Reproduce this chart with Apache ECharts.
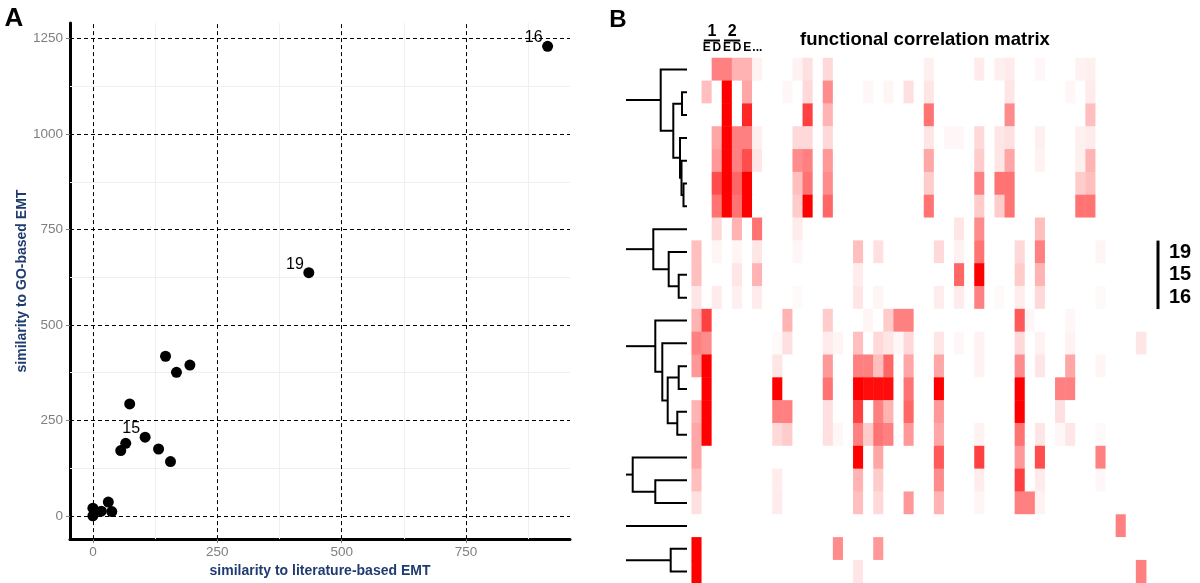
<!DOCTYPE html>
<html><head><meta charset="utf-8">
<script src="https://cdn.jsdelivr.net/npm/echarts@6/dist/echarts.min.js"></script>
<style>html,body{margin:0;padding:0;background:#fff}#c{width:1200px;height:583px}</style>
</head><body><div id="c"></div>
<script>
// ---------- Panel A data ----------
const pointX = [914, 434, 105, 146, 168, 195, 74, 66, 56, 132, 156, 0, 0, 17, 31, 38];
const pointY = [1230, 637, 206, 418, 376, 395, 293, 190, 171, 175, 142, 20, 0, 12, 36, 11];
const pointLabel = ['16', '19', '15', '', '', '', '', '', '', '', '', '', '', '', '', ''];
const xTicks = [0, 250, 500, 750];
const yTicks = [0, 250, 500, 750, 1000, 1250];
const xMinor = [125, 375, 625, 875];
const yMinor = [125, 375, 625, 875, 1125];

// ---------- Panel B data ----------
const nRows = 23;
const nCols = 45;
const colLabels = ['', 'E', 'D', 'E', 'D', 'E', '...'];
const headerGroups = [['1', 1, 2], ['2', 3, 4]];
const bracketLabels = [['19', 8], ['15', 9], ['16', 10]];
// sparse rows: [column, value 0..1]
const row0 = [[2,.5],[3,.5],[4,.3],[5,.3],[6,.05],[10,.05],[11,.12],[13,.15],[23,.06],[28,.08],[30,.06],[31,.08],[34,.03],[38,.05],[39,.06]];
const row1 = [[1,.25],[3,1],[5,.35],[9,.03],[11,.15],[13,.45],[17,.03],[19,.04],[21,.12],[23,.1],[31,.1],[37,.03],[39,.08]];
const row2 = [[3,1],[5,.85],[11,.75],[13,.3],[23,.55],[31,.45],[39,.25]];
const row3 = [[2,.35],[3,1],[4,.5],[5,.5],[6,.06],[10,.15],[11,.15],[13,.15],[23,.1],[25,.03],[26,.03],[28,.15],[30,.1],[31,.12],[34,.06],[38,.06],[39,.08]];
const row4 = [[2,.4],[3,1],[4,.5],[5,.7],[6,.1],[10,.45],[11,.5],[13,.4],[23,.35],[28,.2],[30,.1],[31,.35],[34,.05],[38,.06],[39,.3]];
const row5 = [[2,.7],[3,1],[4,.6],[5,1],[10,.25],[11,.55],[13,.45],[23,.2],[28,.5],[30,.55],[31,.55],[38,.2],[39,.25]];
const row6 = [[2,.55],[3,1],[4,.55],[5,1],[10,.2],[11,1],[13,.6],[23,.55],[28,.2],[30,.2],[31,.55],[38,.55],[39,.55]];
const row7 = [[2,.15],[4,.3],[6,.55],[10,.08],[26,.1],[28,.45],[34,.25]];
const row8 = [[0,.25],[2,.04],[4,.04],[6,.1],[10,.03],[16,.25],[18,.12],[24,.15],[26,.05],[28,.55],[32,.15],[34,.5],[40,.04]];
const row9 = [[0,.25],[4,.1],[6,.3],[16,.07],[26,.6],[28,1],[32,.2],[34,.3]];
const row10 = [[0,.1],[2,.08],[4,.06],[6,.08],[10,.02],[16,.1],[18,.04],[24,.07],[26,.08],[28,.5],[30,.02],[32,.07],[34,.15],[40,.02]];
const row11 = [[0,.3],[1,.75],[9,.3],[13,.2],[17,.04],[19,.2],[20,.5],[21,.5],[32,.65],[33,.03],[37,.03]];
const row12 = [[0,.5],[1,.45],[8,.02],[9,.12],[13,.08],[14,.04],[16,.25],[18,.15],[19,.1],[20,.03],[21,.15],[24,.1],[26,.03],[28,.05],[32,.15],[34,.05],[37,.05],[44,.1]];
const row13 = [[0,.4],[1,1],[8,.1],[13,.4],[16,.5],[17,.5],[18,.25],[19,.6],[21,.35],[24,.35],[28,.05],[32,.45],[34,.1],[37,.35],[40,.04]];
const row14 = [[1,1],[8,1],[13,.55],[16,1],[17,.95],[18,.95],[19,.95],[21,.55],[24,1],[32,1],[36,.5],[37,.5]];
const row15 = [[0,.3],[1,1],[8,.5],[9,.5],[13,.12],[16,.75],[18,.5],[19,.3],[21,.6],[24,.4],[32,1],[36,.12]];
const row16 = [[0,.35],[1,1],[8,.15],[9,.2],[13,.12],[14,.03],[16,.5],[17,.2],[18,.55],[19,.5],[21,.4],[24,.35],[28,.05],[32,.55],[34,.1],[36,.03],[37,.1],[40,.02]];
const row17 = [[0,.35],[16,1],[18,.35],[24,.65],[28,.75],[32,.4],[34,.7],[40,.5]];
const row18 = [[0,.25],[8,.07],[16,.3],[18,.2],[24,.45],[28,.07],[32,.75],[34,.08],[40,.03]];
const row19 = [[0,.12],[8,.08],[16,.25],[18,.15],[21,.4],[24,.3],[28,.04],[32,.5],[33,.5],[34,.05]];
const row20 = [[42,.5]];
const row21 = [[0,1],[14,.45],[18,.4]];
const row22 = [[0,1],[16,.1],[44,.5]];
const heatRows = [row0,row1,row2,row3,row4,row5,row6,row7,row8,row9,row10,row11,row12,row13,row14,row15,row16,row17,row18,row19,row20,row21,row22];

// dendrogram merges: [childA, childB, height]; ids >= nRows refer to earlier merges
const merges = [
  [5, 6, 3.5], [4, 23, 5.5], [3, 24, 7], [1, 2, 5], [26, 25, 13.7], [0, 27, 26.3],
  [9, 10, 8.3], [8, 29, 18.3], [7, 30, 33.7],
  [13, 14, 8.3], [15, 16, 9.7], [32, 33, 19.3], [12, 34, 24.7], [11, 35, 31.7],
  [18, 19, 31.7], [17, 37, 54.3],
  [21, 22, 16.3]
];
const dendroRoots = [28, 31, 36, 38, 20, 39];
const stemHeight = 61;

// ---------- build ----------
const FONT = 'Liberation Sans, Arial, Helvetica, sans-serif';
const scatterData = pointX.map((x, i) => [x, pointY[i], pointLabel[i]]);
const rowIds = Array.from({length: nRows}, (_, i) => String(i));
const colCats = Array.from({length: nCols}, (_, i) => colLabels[i] || '');
const heatData = [];
heatRows.forEach((row, r) => {
  const m = new Map(row);
  for (let c = 0; c < nCols; c++) heatData.push([c, r, m.get(c) || 0]);
});
const nodeY = [], nodeH = [];
for (let i = 0; i < nRows; i++) { nodeY.push(i); nodeH.push(0); }
const links = [];
merges.forEach(([a, b, h]) => {
  links.push([nodeH[a], nodeY[a], h, nodeY[a], h, nodeY[b], nodeH[b], nodeY[b]]);
  nodeY.push((nodeY[a] + nodeY[b]) / 2); nodeH.push(h);
});
dendroRoots.forEach(id => {
  links.push([nodeH[id], nodeY[id], stemHeight, nodeY[id], stemHeight, nodeY[id], stemHeight, nodeY[id]]);
});

const gridLineStyle = {type: [4, 3], color: '#000', width: 1};
const plain = v => String(v);
const chart = echarts.init(document.getElementById('c'));
const option = {
  animation: false,
  backgroundColor: '#ffffff',
  textStyle: {fontFamily: FONT},
  grid: [
    {left: 70, top: 23, width: 500, height: 521},
    {left: 691.7, top: 58, width: 454.5, height: 526},
    {left: 626, top: 58, width: 61, height: 526}
  ],
  xAxis: [
    {gridIndex: 0, type: 'value', min: -46, max: 959,
     axisLine: {show: true, onZero: false, lineStyle: {color: '#000', width: 3}},
     axisTick: {show: true, customValues: xTicks, length: 4, lineStyle: {color: '#7f7f7f'}},
     axisLabel: {customValues: xTicks, formatter: plain, color: '#7f7f7f', fontSize: 13.5, margin: 6, fontFamily: FONT},
     splitLine: {show: false},
     name: 'similarity to literature-based EMT', nameLocation: 'middle', nameGap: 19,
     nameTextStyle: {fontWeight: 'bold', color: '#1f3b70', fontSize: 14, fontFamily: FONT}},
    {gridIndex: 1, type: 'category', data: colCats, position: 'top',
     axisLine: {show: false}, axisTick: {show: false}, splitLine: {show: false},
     axisLabel: {interval: 0, fontWeight: 'bold', fontSize: 12, margin: 4, color: '#000', fontFamily: FONT}},
    {gridIndex: 2, type: 'value', min: 0, max: stemHeight, inverse: true, show: false}
  ],
  yAxis: [
    {gridIndex: 0, type: 'value', min: -61, max: 1291,
     axisLine: {show: true, onZero: false, lineStyle: {color: '#000', width: 3}},
     axisTick: {show: true, customValues: yTicks, length: 4, lineStyle: {color: '#7f7f7f'}},
     axisLabel: {customValues: yTicks, formatter: plain, color: '#7f7f7f', fontSize: 13.5, margin: 7, fontFamily: FONT},
     splitLine: {show: false},
     name: 'similarity to GO-based EMT', nameLocation: 'middle', nameGap: 32,
     nameTextStyle: {fontWeight: 'bold', color: '#1f3b70', fontSize: 14, fontFamily: FONT}},
    {gridIndex: 1, type: 'category', data: rowIds, inverse: true, show: false},
    {gridIndex: 2, type: 'value', min: -0.5, max: nRows - 0.5, inverse: true, show: false}
  ],
  visualMap: {show: false, type: 'continuous', min: 0, max: 1, seriesIndex: 3,
              inRange: {color: ['#ffffff', '#ff0000']}},
  series: [
    {type: 'line', xAxisIndex: 0, yAxisIndex: 0, data: [], silent: true,
     markLine: {silent: true, z: 1, symbol: ['none', 'none'], label: {show: false}, animation: false,
                lineStyle: {type: 'solid', color: '#efefef', width: 1},
                data: [...xMinor.map(v => ({xAxis: v})), ...yMinor.map(v => ({yAxis: v}))]}},
    {type: 'line', xAxisIndex: 0, yAxisIndex: 0, data: [], silent: true,
     markLine: {silent: true, z: 1, symbol: ['none', 'none'], label: {show: false}, animation: false,
                lineStyle: gridLineStyle,
                data: [...xTicks.map(v => ({xAxis: v})), ...yTicks.map(v => ({yAxis: v}))]}},
    {type: 'scatter', xAxisIndex: 0, yAxisIndex: 0, z: 3, symbolSize: 11,
     itemStyle: {color: '#000', opacity: 1}, data: scatterData,
     label: {show: true, position: 'left', distance: 0, offset: [0.5, -8.5], color: '#000', fontSize: 16,
             fontFamily: FONT, formatter: p => p.data[2]}},
    {type: 'heatmap', xAxisIndex: 1, yAxisIndex: 1, data: heatData, progressive: 0,
     itemStyle: {borderWidth: 0}, emphasis: {disabled: true}},
    {type: 'custom', xAxisIndex: 2, yAxisIndex: 2, data: links, clip: false, silent: true,
     encode: {x: [0, 2, 4, 6], y: [1, 3, 5, 7]},
     renderItem: (params, api) => {
       const pts = [];
       for (let i = 0; i < 4; i++) pts.push(api.coord([api.value(2 * i), api.value(2 * i + 1)]));
       return {type: 'polyline', shape: {points: pts}, style: {stroke: '#000', lineWidth: 2, fill: null}};
     }}
  ]
};
chart.setOption(option);

// annotations derived from the heatmap axes
const px = (c) => chart.convertToPixel({xAxisIndex: 1}, c);
const py = (r) => chart.convertToPixel({yAxisIndex: 1}, String(r));
const cellW = px(1) - px(0);
const cellH = py(1) - py(0);
const graphics = [
  {type: 'text', style: {text: 'A', x: 14, y: 19, align: 'center', verticalAlign: 'middle', font: 'bold 26px ' + FONT, fill: '#000'}},
  {type: 'text', style: {text: 'B', x: 618, y: 20, align: 'center', verticalAlign: 'middle', font: 'bold 24px ' + FONT, fill: '#000'}},
  {type: 'text', style: {text: 'functional correlation matrix', x: 925, y: 40, align: 'center', verticalAlign: 'middle', font: 'bold 18.5px ' + FONT, fill: '#000'}}
];
headerGroups.forEach(([lab, c1, c2]) => {
  const cx = (px(c1) + px(c2)) / 2;
  graphics.push({type: 'text', style: {text: lab, x: cx, y: 31.5, align: 'center', verticalAlign: 'middle', font: 'bold 16px ' + FONT, fill: '#000'}});
  graphics.push({type: 'line', shape: {x1: px(c1) - cellW * 0.3, y1: 40.5, x2: px(c2) + cellW * 0.3, y2: 40.5}, style: {stroke: '#000', lineWidth: 2}});
});
const bTop = py(bracketLabels[0][1]) - cellH / 2;
const bBot = py(bracketLabels[bracketLabels.length - 1][1]) + cellH / 2;
graphics.push({type: 'line', shape: {x1: 1158, y1: bTop, x2: 1158, y2: bBot}, style: {stroke: '#000', lineWidth: 3}});
bracketLabels.forEach(([lab, r]) => {
  graphics.push({type: 'text', style: {text: lab, x: 1180, y: py(r), align: 'center', verticalAlign: 'middle', font: 'bold 20px ' + FONT, fill: '#000'}});
});
chart.setOption({graphic: graphics});
</script>
</body></html>
